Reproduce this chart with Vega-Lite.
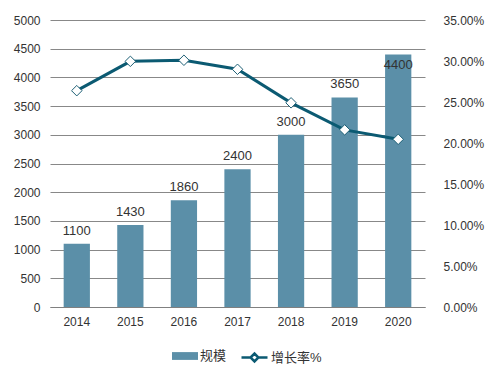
{
  "$schema": "https://vega.github.io/schema/vega-lite/v6.json",
  "width": 375,
  "height": 287,
  "autosize": {"type": "none"},
  "padding": {"left": 50, "top": 20, "right": 66, "bottom": 68},
  "background": "white",
  "config": {
    "view": {"stroke": null},
    "font": "Liberation Sans, Noto Sans CJK SC",
    "axis": {"labelFont": "Liberation Sans", "labelFontSize": 12, "labelColor": "#333333"},
    "legend": {"labelFont": "Liberation Sans, Noto Sans CJK SC", "labelFontSize": 13, "labelColor": "#333333", "orient": "none", "labelOffset": 2}
  },
  "data": {
    "values": [
      {"year": "2014", "scale": 1100, "rate": 0.2638},
      {"year": "2015", "scale": 1430, "rate": 0.2996},
      {"year": "2016", "scale": 1860, "rate": 0.3009},
      {"year": "2017", "scale": 2400, "rate": 0.2899},
      {"year": "2018", "scale": 3000, "rate": 0.2490},
      {"year": "2019", "scale": 3650, "rate": 0.2160},
      {"year": "2020", "scale": 4400, "rate": 0.2045}
    ]
  },
  "encoding": {
    "x": {
      "field": "year", "type": "ordinal",
      "scale": {"paddingInner": 0.51, "paddingOuter": 0.255},
      "axis": {"title": null, "labelAngle": 0, "ticks": false, "domainColor": "#808080", "labelPadding": 9}
    }
  },
  "layer": [
    {
      "encoding": {
        "y": {
          "field": "scale", "type": "quantitative",
          "scale": {"domain": [0, 5000]},
          "axis": {"title": null, "format": "d", "values": [0, 500, 1000, 1500, 2000, 2500, 3000, 3500, 4000, 4500, 5000], "ticks": false, "domain": false, "gridColor": "#888888", "labelPadding": 10}
        }
      },
      "layer": [
        {
          "mark": {"type": "bar", "color": "#5b8fa8"},
          "encoding": {
            "color": {
              "datum": "规模",
              "scale": {"domain": ["规模"], "range": ["#5b8fa8"]},
              "legend": {"title": null, "orient": "none", "legendX": 122, "legendY": 323, "symbolType": "M-1,-0.3H1V0.3H-1Z", "symbolSize": 676, "symbolStrokeWidth": 0}
            }
          }
        },
        {
          "transform": [{"filter": "datum.year != '2020'"}],
          "mark": {"type": "text", "baseline": "bottom", "dy": -6, "fontSize": 13, "color": "#333333", "font": "Liberation Sans"},
          "encoding": {"text": {"field": "scale", "type": "quantitative"}}
        },
        {
          "transform": [{"filter": "datum.year == '2020'"}],
          "mark": {"type": "text", "baseline": "top", "dy": 5, "fontSize": 13, "color": "#333333", "font": "Liberation Sans"},
          "encoding": {"text": {"field": "scale", "type": "quantitative"}}
        }
      ]
    },
    {
      "encoding": {
        "y": {
          "field": "rate", "type": "quantitative",
          "scale": {"domain": [0, 0.35]},
          "axis": {"title": null, "orient": "right", "format": ".2%", "values": [0, 0.05, 0.1, 0.15, 0.2, 0.25, 0.3, 0.35], "ticks": false, "domain": false, "grid": false, "labelPadding": 18}
        }
      },
      "layer": [
        {
          "mark": {"type": "line", "color": "#0b5a72", "strokeWidth": 3},
          "encoding": {
            "stroke": {
              "datum": "增长率%",
              "scale": {"domain": ["增长率%"], "range": ["#0b5a72"]},
              "legend": {"title": null, "orient": "none", "legendX": 190, "legendY": 323, "symbolType": "M-1,0H-0.3M0.3,0H1M-0.3,0L0,-0.3L0.3,0L0,0.3Z", "symbolSize": 676, "symbolStrokeWidth": 2.5, "symbolFillColor": "white"}
            }
          }
        },
        {
          "mark": {"type": "point", "shape": "diamond", "size": 110, "filled": true, "fill": "white", "stroke": "#1d5f75", "strokeWidth": 1, "opacity": 1}
        }
      ]
    }
  ],
  "resolve": {"scale": {"y": "independent"}}
}
